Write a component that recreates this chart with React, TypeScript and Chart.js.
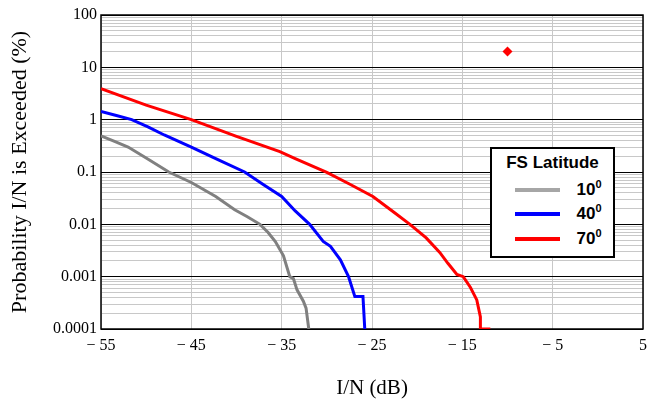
import React, { useEffect, useRef } from "react";
import { Chart, registerables } from "chart.js";

Chart.register(...registerables);

// ---- Data ----
const xTickValues = [-55, -45, -35, -25, -15, -5, 5];
const yDecadeValues = [0.0001, 0.001, 0.01, 0.1, 1, 10, 100];
const yTickLabels = ["0.0001", "0.001", "0.01", "0.1", "1", "10", "100"];

const lat10X = [-55, -53.5, -52, -50, -47.5, -45, -42.3, -40.2, -38.8, -37.4, -36.5, -35.7, -34.8, -34.1, -33.7, -33.3, -32.6, -32.3, -32.0];
const lat10Y = [0.49, 0.385, 0.3, 0.185, 0.1, 0.063, 0.034, 0.019, 0.014, 0.01, 0.007, 0.0047, 0.0025, 0.001, 0.00092, 0.00056, 0.00034, 0.00025, 0.0001];

const lat40X = [-55, -53.3, -51.6, -49.8, -48, -45, -42, -39.1, -37, -35, -33.5, -31.9, -30.4, -29.6, -28.5, -27.6, -26.9, -26.0, -25.8];
const lat40Y = [1.43, 1.2, 1.0, 0.73, 0.51, 0.3, 0.17, 0.1, 0.057, 0.034, 0.018, 0.01, 0.0047, 0.0038, 0.0021, 0.001, 0.00042, 0.00042, 0.0001];

const lat70X = [-55, -50, -45, -40, -35.2, -33.5, -30, -27.5, -24.9, -22.5, -20.8, -19, -17.5, -16.6, -15.6, -14.9, -14.1, -13.4, -13.0, -13.0, -11.9];
const lat70Y = [3.9, 1.9, 1.0, 0.48, 0.245, 0.18, 0.098, 0.059, 0.034, 0.0166, 0.01, 0.0055, 0.0029, 0.0018, 0.0011, 0.001, 0.00062, 0.00036, 0.00017, 0.0001, 0.0001];

const markerX = [-10];
const markerY = [20];

const legendTitle = "FS Latitude";
const legendLabels = ["10", "40", "70"];
const legendColors = ["#a6a6a6", "#0000ff", "#ff0000"];
const curveColors = ["#808080", "#0000ff", "#ff0000"];

const xTitle = "I/N (dB)";
const yTitle = "Probability I/N is Exceeded (%)";

const toPts = (xs: number[], ys: number[]) => xs.map((x, i) => ({ x, y: ys[i] }));

const decadeIndex = (v: number) => {
  const l = Math.log10(v);
  const r = Math.round(l);
  if (Math.abs(l - r) < 1e-6) return yDecadeValues.findIndex((d) => Math.abs(Math.log10(d) - r) < 1e-6);
  return -1;
};

const framePlugin = {
  id: "frame",
  beforeDatasetsDraw(chart: any) {
    const { ctx, chartArea: a } = chart;
    ctx.save();
    ctx.strokeStyle = "#000";
    ctx.lineWidth = 1.5;
    ctx.strokeRect(a.left, a.top, a.right - a.left, a.bottom - a.top);
    ctx.restore();
  },
};

export default function App() {
  const ref = useRef<HTMLCanvasElement | null>(null);

  useEffect(() => {
    document.body.style.margin = "0";
    const canvas = ref.current;
    if (!canvas) return;
    const serif = '"Liberation Serif", "Times New Roman", serif';
    const chart = new Chart(canvas, {
      type: "line",
      data: {
        datasets: [
          { label: "10", data: toPts(lat10X, lat10Y), borderColor: curveColors[0], borderWidth: 3, pointRadius: 0, tension: 0, fill: false },
          { label: "40", data: toPts(lat40X, lat40Y), borderColor: curveColors[1], borderWidth: 3, pointRadius: 0, tension: 0, fill: false },
          { label: "70", data: toPts(lat70X, lat70Y), borderColor: curveColors[2], borderWidth: 3, pointRadius: 0, tension: 0, fill: false },
          {
            label: "marker",
            data: toPts(markerX, markerY),
            showLine: false,
            pointStyle: "rectRot",
            pointRadius: 5,
            backgroundColor: "#ff0000",
            borderColor: "#ff0000",
            borderWidth: 0,
          },
        ],
      },
      options: {
        responsive: false,
        animation: false,
        events: [],
        layout: { padding: { left: 0, right: 6, top: 15, bottom: 0 } },
        plugins: { legend: { display: false }, tooltip: { enabled: false } },
        scales: {
          x: {
            type: "linear",
            min: -55,
            max: 5,
            afterBuildTicks: (scale: any) => {
              scale.ticks = xTickValues.map((v) => ({ value: v }));
            },
            afterFit: (scale: any) => {
              scale.height = 71;
              scale.paddingLeft = 0;
              scale.paddingRight = 0;
            },
            ticks: {
              autoSkip: false,
              maxRotation: 0,
              padding: 7,
              color: "#000",
              font: { family: serif, size: 16 },
              callback: (v: any) => (Number(v) < 0 ? "\u2212 " + Math.abs(Number(v)) : String(v)),
            },
            grid: { color: "#c8c8c8", lineWidth: 1, drawTicks: false },
            border: { display: false },
            title: {
              display: true,
              text: xTitle,
              color: "#000",
              font: { family: serif, size: 21, lineHeight: 1 },
              padding: { top: 0, bottom: 1 },
            },
          },
          y: {
            type: "logarithmic",
            min: 0.0001,
            max: 100,
            afterBuildTicks: (scale: any) => {
              const t: any[] = [];
              for (let i = 0; i < yDecadeValues.length; i++) {
                const d = yDecadeValues[i];
                t.push({ value: d });
                if (i < yDecadeValues.length - 1) {
                  for (let k = 2; k <= 9; k++) t.push({ value: k * d });
                }
              }
              scale.ticks = t;
            },
            afterFit: (scale: any) => {
              scale.width = 101;
              scale.paddingTop = 0;
              scale.paddingBottom = 0;
            },
            ticks: {
              autoSkip: false,
              padding: 4,
              color: "#000",
              font: { family: serif, size: 16 },
              callback: (v: any) => {
                const i = decadeIndex(Number(v));
                return i >= 0 ? yTickLabels[i] : "";
              },
            },
            grid: {
              drawTicks: false,
              lineWidth: 1,
              color: (ctx: any) => (ctx.tick && decadeIndex(ctx.tick.value) >= 0 ? "#000" : "#c8c8c8"),
            },
            border: { display: false },
            title: {
              display: true,
              text: yTitle,
              color: "#000",
              font: { family: serif, size: 22, lineHeight: 1.2 },
              padding: { top: 7, bottom: 0 },
            },
          },
        },
      },
      plugins: [framePlugin],
    } as any);
    return () => chart.destroy();
  }, []);

  const legendFont = '"Liberation Sans", Arial, sans-serif';
  const rowCenters = [190, 214, 239];
  const boxLeft = 490;
  const boxTop = 147;
  const bw = 2.5;

  return (
    <div style={{ position: "relative", width: 649, height: 400, background: "#fff" }}>
      <canvas ref={ref} width={649} height={400} style={{ display: "block" }} />
      <div
        style={{
          position: "absolute",
          left: boxLeft,
          top: boxTop,
          width: 125,
          height: 111,
          boxSizing: "border-box",
          border: `${bw}px solid #000`,
          background: "#fff",
          fontFamily: legendFont,
          fontWeight: "bold",
          color: "#000",
        }}
      >
        <div
          style={{
            position: "absolute",
            left: 0,
            right: 0,
            top: 163 - boxTop - bw - 10,
            height: 20,
            lineHeight: "20px",
            fontSize: 17,
            textAlign: "center",
            whiteSpace: "nowrap",
          }}
        >
          {legendTitle}
        </div>
        {legendLabels.map((lab, i) => (
          <React.Fragment key={lab}>
            <div
              style={{
                position: "absolute",
                left: 515 - boxLeft - bw,
                width: 45,
                top: rowCenters[i] - boxTop - bw - 2,
                height: 4,
                background: legendColors[i],
              }}
            />
            <div
              style={{
                position: "absolute",
                right: 615 - bw - 601,
                top: rowCenters[i] - boxTop - bw - 10,
                height: 20,
                lineHeight: "20px",
                fontSize: 17,
                whiteSpace: "nowrap",
              }}
            >
              {lab}
              <span style={{ fontSize: 11, position: "relative", top: -7 }}>0</span>
            </div>
          </React.Fragment>
        ))}
      </div>
    </div>
  );
}
